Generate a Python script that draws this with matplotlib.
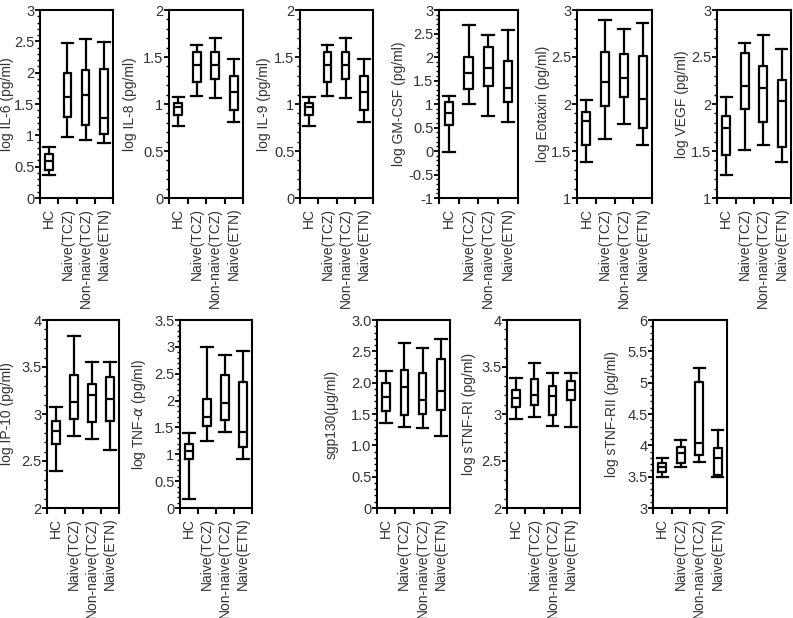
import matplotlib
matplotlib.use("Agg")
import matplotlib.pyplot as plt
from matplotlib.ticker import MultipleLocator, FixedLocator, FuncFormatter

plt.rcParams['font.family'] = ['Liberation Sans', 'DejaVu Sans']

categories = ["HC", "Naive(TCZ)", "Non-naive(TCZ)", "Naive(ETN)"]

# each list: [HC, Naive(TCZ), Non-naive(TCZ), Naive(ETN)]
il6_whislo = [0.37, 0.98, 0.93, 0.87]
il6_q1     = [0.45, 1.29, 1.17, 1.02]
il6_med    = [0.59, 1.61, 1.64, 1.28]
il6_q3     = [0.71, 2.00, 2.05, 2.06]
il6_whishi = [0.81, 2.48, 2.53, 2.49]

il8_whislo = [0.77, 1.09, 1.06, 0.81]
il8_q1     = [0.88, 1.23, 1.27, 0.94]
il8_med    = [0.97, 1.42, 1.41, 1.13]
il8_q3     = [1.01, 1.55, 1.55, 1.30]
il8_whishi = [1.07, 1.63, 1.70, 1.48]

il9_whislo = [0.77, 1.09, 1.06, 0.81]
il9_q1     = [0.88, 1.23, 1.27, 0.94]
il9_med    = [0.97, 1.42, 1.41, 1.13]
il9_q3     = [1.01, 1.55, 1.55, 1.30]
il9_whishi = [1.07, 1.63, 1.70, 1.48]

gm_whislo = [-0.03, 1.01, 0.75, 0.61]
gm_q1     = [0.56, 1.32, 1.39, 1.04]
gm_med    = [0.81, 1.65, 1.77, 1.35]
gm_q3     = [1.04, 2.00, 2.22, 1.91]
gm_whishi = [1.16, 2.69, 2.46, 2.57]

eot_whislo = [1.38, 1.63, 1.79, 1.56]
eot_q1     = [1.56, 1.98, 2.07, 1.74]
eot_med    = [1.82, 2.23, 2.28, 2.05]
eot_q3     = [1.92, 2.55, 2.53, 2.51]
eot_whishi = [2.04, 2.89, 2.80, 2.86]

vegf_whislo = [1.25, 1.51, 1.56, 1.38]
vegf_q1     = [1.46, 1.95, 1.81, 1.54]
vegf_med    = [1.75, 2.19, 2.17, 2.03]
vegf_q3     = [1.87, 2.54, 2.40, 2.26]
vegf_whishi = [2.07, 2.65, 2.73, 2.58]

ip10_whislo = [2.39, 2.77, 2.73, 2.62]
ip10_q1     = [2.68, 2.95, 2.91, 2.93]
ip10_med    = [2.82, 3.13, 3.20, 3.16]
ip10_q3     = [2.93, 3.41, 3.32, 3.39]
ip10_whishi = [3.07, 3.83, 3.55, 3.55]

tnf_whislo = [0.17, 1.24, 1.41, 0.92]
tnf_q1     = [0.91, 1.53, 1.64, 1.13]
tnf_med    = [1.07, 1.70, 1.96, 1.41]
tnf_q3     = [1.20, 2.03, 2.47, 2.34]
tnf_whishi = [1.39, 2.99, 2.84, 2.93]

sgp_whislo = [1.35, 1.29, 1.27, 1.15]
sgp_q1     = [1.54, 1.48, 1.50, 1.57]
sgp_med    = [1.77, 1.93, 1.73, 1.86]
sgp_q3     = [1.99, 2.20, 2.15, 2.37]
sgp_whishi = [2.19, 2.64, 2.56, 2.70]

r1_whislo = [2.95, 2.97, 2.87, 2.86]
r1_q1     = [3.07, 3.10, 2.99, 3.15]
r1_med    = [3.17, 3.20, 3.19, 3.26]
r1_q3     = [3.26, 3.37, 3.30, 3.35]
r1_whishi = [3.38, 3.54, 3.44, 3.44]

r2_whislo = [3.50, 3.66, 3.73, 3.49]
r2_q1     = [3.58, 3.72, 3.84, 3.52]
r2_med    = [3.65, 3.87, 4.03, 3.79]
r2_q3     = [3.72, 3.98, 5.01, 3.95]
r2_whishi = [3.79, 4.08, 5.23, 4.25]

W, H = 793, 618
TXT = '#333333'

panels = [
    # label, stats, ylim, pixel box (x0, x1, y0, y1), ylabel right-edge x (px), tick format
    ("log IL-6 (pg/ml)", (il6_whislo, il6_q1, il6_med, il6_q3, il6_whishi), (0, 3), (40, 113, 10, 198), 14, "g"),
    ("log IL-8 (pg/ml)", (il8_whislo, il8_q1, il8_med, il8_q3, il8_whishi), (0, 2), (169, 243, 10, 198), 137, "g"),
    ("log IL-9 (pg/ml)", (il9_whislo, il9_q1, il9_med, il9_q3, il9_whishi), (0, 2), (300, 373, 10, 198), 271, "g"),
    ("log GM-CSF (pg/ml)", (gm_whislo, gm_q1, gm_med, gm_q3, gm_whishi), (-1, 3), (439, 518, 10, 198), 406, "g"),
    ("log Eotaxin (pg/ml)", (eot_whislo, eot_q1, eot_med, eot_q3, eot_whishi), (1, 3), (577, 652, 10, 198), 550, "g"),
    ("log VEGF (pg/ml)", (vegf_whislo, vegf_q1, vegf_med, vegf_q3, vegf_whishi), (1, 3), (717, 791, 10, 198), 689, "g"),
    ("log IP-10 (pg/ml)", (ip10_whislo, ip10_q1, ip10_med, ip10_q3, ip10_whishi), (2, 4), (47, 119, 320, 508), 14, "g"),
    ("log TNF-$\\alpha$ (pg/ml)", (tnf_whislo, tnf_q1, tnf_med, tnf_q3, tnf_whishi), (0, 3.5), (180, 252, 320, 508), 148, "g"),
    ("sgp130(μg/ml)", (sgp_whislo, sgp_q1, sgp_med, sgp_q3, sgp_whishi), (0, 3), (377, 450, 320, 508), 339, "sgp"),
    ("log sTNF-RI (pg/ml)", (r1_whislo, r1_q1, r1_med, r1_q3, r1_whishi), (2, 4), (507, 580, 320, 508), 476, "g"),
    ("log sTNF-RII (pg/ml)", (r2_whislo, r2_q1, r2_med, r2_q3, r2_whishi), (3, 6), (653, 727, 320, 508), 619, "g"),
]

fig = plt.figure(figsize=(W / 100, H / 100), dpi=100)

for label, (wlo, q1, med, q3, whi), ylim, (x0, x1, y0, y1), lab_x, fmt in panels:
    ax = fig.add_axes([x0 / W, 1 - y1 / H, (x1 - x0) / W, (y1 - y0) / H])
    stats = []
    for i, c in enumerate(categories):
        stats.append(dict(label=c, whislo=wlo[i], q1=q1[i], med=med[i],
                          q3=q3[i], whishi=whi[i], fliers=[]))
    lw = 1.6
    ax.bxp(stats, positions=range(len(categories)), widths=0.42,
           showfliers=False, capwidths=0.62,
           boxprops=dict(color='black', linewidth=lw),
           whiskerprops=dict(color='black', linewidth=lw),
           capprops=dict(color='black', linewidth=lw),
           medianprops=dict(color='black', linewidth=lw))
    ax.set_xlim(-0.5, 3.5)
    ax.set_ylim(*ylim)
    ax.yaxis.set_major_locator(MultipleLocator(0.5))
    ax.yaxis.set_minor_locator(MultipleLocator(0.1))
    if fmt == "sgp":
        ax.yaxis.set_major_formatter(FuncFormatter(lambda v, p: "0" if abs(v) < 1e-9 else f"{v:.1f}"))
    else:
        ax.yaxis.set_major_formatter(FuncFormatter(lambda v, p: f"{v:g}"))
    ax.set_xticks(range(len(categories)))
    ax.set_xticklabels(categories, rotation=90, fontsize=10, color=TXT)
    ax.xaxis.set_minor_locator(FixedLocator([-0.5, 0.5, 1.5, 2.5, 3.5]))
    ax.tick_params(axis='x', which='major', length=0, pad=7)
    ax.tick_params(axis='x', which='minor', length=4, width=1.5, direction='out')
    ax.tick_params(axis='y', which='major', length=3.5, width=1.3, direction='out',
                   labelsize=10.5, labelcolor=TXT, pad=0.5)
    ax.tick_params(axis='y', which='minor', length=2.2, width=1.0, direction='out')
    for s in ax.spines.values():
        s.set_linewidth(1.5)
    ax.set_ylabel(label, fontsize=10, color=TXT)
    ax.yaxis.set_label_coords((lab_x - x0) / (x1 - x0), 0.5)

fig.savefig("out.png", dpi=100)
